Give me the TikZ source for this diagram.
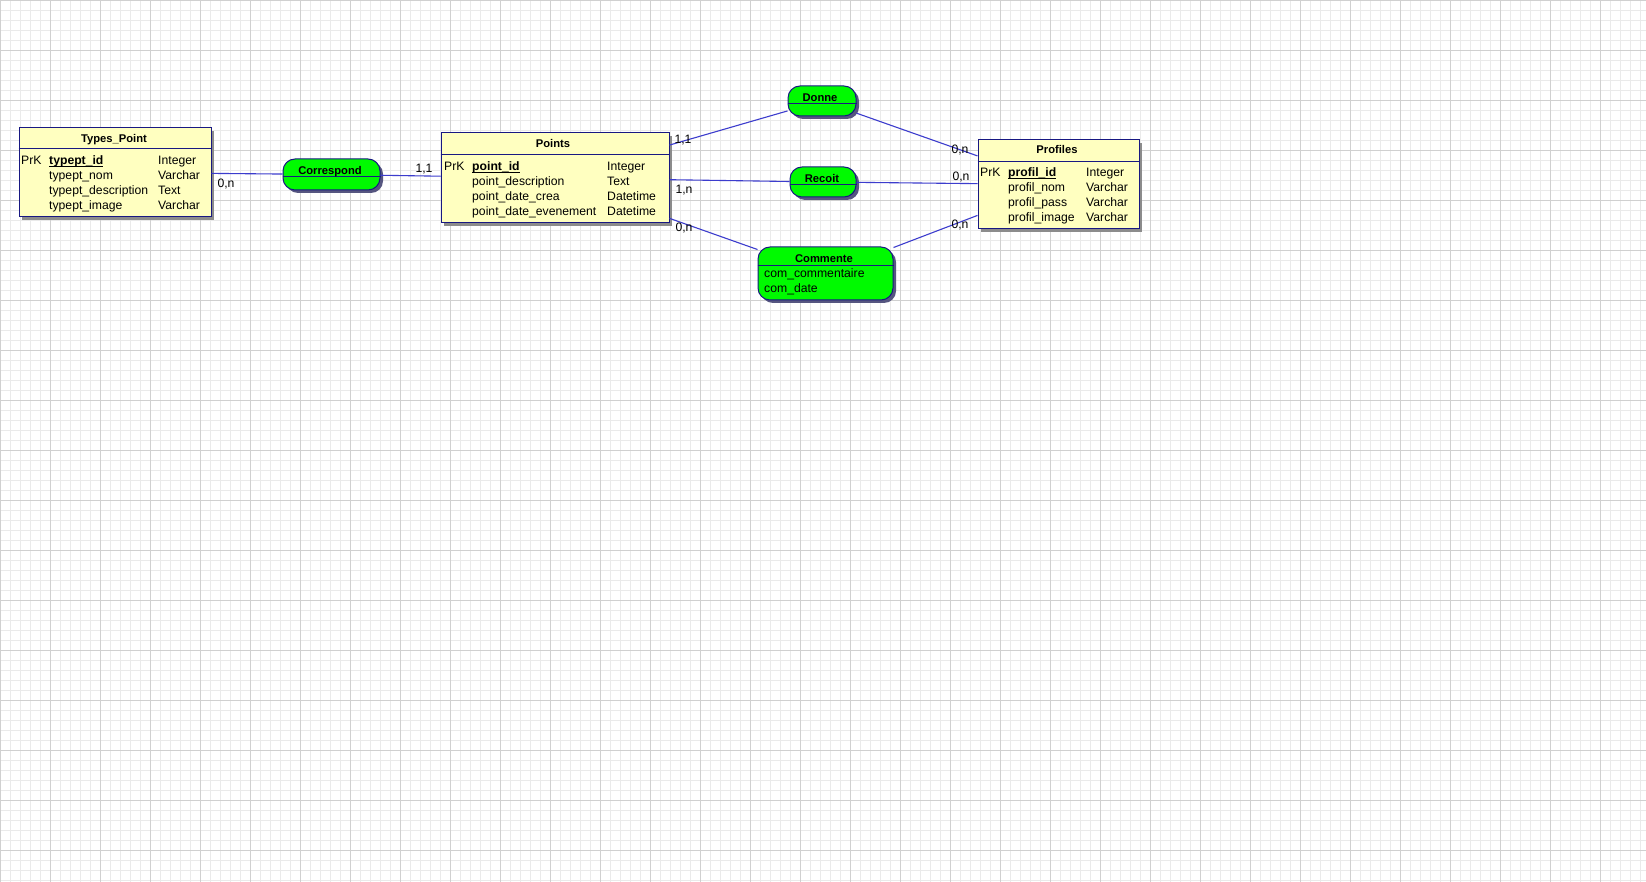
\documentclass[tikz,border=0pt]{standalone}
\usepackage{fontspec}
\setmainfont{Liberation Sans}
\usetikzlibrary{shadows}

\definecolor{tablefill}{RGB}{255,255,192}
\definecolor{assocgreen}{RGB}{0,250,0}
\definecolor{edgenavy}{RGB}{24,24,130}
\definecolor{linkblue}{RGB}{60,60,205}
\definecolor{gridminor}{RGB}{234,234,234}
\definecolor{gridmajor}{RGB}{208,208,208}
\newcommand\attrfont{\fontsize{12.2}{14}\selectfont}
\newcommand\titlefont{\fontsize{11.2}{13}\selectfont\bfseries}
\newcommand\primkey[1]{\underline{\smash{\textbf{#1}}}}

\begin{document}
\begin{tikzpicture}[x=1pt,y=-1pt,
    table/.style={rectangle,draw=edgenavy,line width=1pt,fill=tablefill,inner sep=0,
      drop shadow={shadow xshift=3pt,shadow yshift=-3pt,fill=black!45,opacity=1}},
    assoc/.style={rectangle,rounded corners=12pt,draw=edgenavy,line width=1pt,fill=assocgreen,inner sep=0,
      drop shadow={shadow xshift=3pt,shadow yshift=-3pt,fill=edgenavy!40!gray,opacity=1}},
    title/.style={inner sep=0,text height=8.5pt,text depth=2.5pt,yshift=-2pt,font=\titlefont},
    attr/.style={anchor=west,inner sep=0,text height=9pt,text depth=3pt,yshift=-2pt,font=\attrfont},
    card/.style={inner sep=0,text height=9pt,text depth=3pt,yshift=-1pt,font=\attrfont}]
      \fill[white] (0,0) rectangle (1646,882);
      \useasboundingbox (0,0) rectangle (1646,882);
      \foreach \gx in {0,10,...,1640} \draw[gridminor,line width=0.8pt] (\gx,0) -- (\gx,882);
      \foreach \gy in {0,10,...,880} \draw[gridminor,line width=0.8pt] (0,\gy) -- (1646,\gy);
      \foreach \gx in {0,50,...,1600} \draw[gridmajor,line width=0.8pt] (\gx,0) -- (\gx,882);
      \foreach \gy in {0,50,...,850} \draw[gridmajor,line width=0.8pt] (0,\gy) -- (1646,\gy);

      \node[table,minimum width=192pt,minimum height=89pt] (tp) at (115,172.5) {};
      \node[table,minimum width=228pt,minimum height=90pt] (pts) at (555,178) {};
      \node[table,minimum width=161pt,minimum height=89pt] (prof) at (1058.5,184.5) {};
      \node[assoc,minimum width=97pt,minimum height=31pt] (corr) at (331.5,174.5) {};
      \node[assoc,minimum width=68pt,minimum height=30pt] (donne) at (822,101) {};
      \node[assoc,minimum width=66pt,minimum height=30pt] (recoit) at (823,182) {};
      \node[assoc,minimum width=135pt,minimum height=53pt] (comm) at (825.5,273.5) {};

      \draw[edgenavy,line width=1pt] (tp.west |- 0,149) -- (tp.east |- 0,149);
      \draw[edgenavy,line width=1pt] (pts.west |- 0,155) -- (pts.east |- 0,155);
      \draw[edgenavy,line width=1pt] (prof.west |- 0,162) -- (prof.east |- 0,162);
      \draw[edgenavy,line width=1pt] (corr.west |- 0,177) -- (corr.east |- 0,177);
      \draw[edgenavy,line width=1pt] (donne.west |- 0,104) -- (donne.east |- 0,104);
      \draw[edgenavy,line width=1pt] (recoit.west |- 0,185) -- (recoit.east |- 0,185);
      \draw[edgenavy,line width=1pt] (comm.west |- 0,266) -- (comm.east |- 0,266);

      \node[title] (tptitle) at (114,138) {Types\_Point};
      \node[attr] (tp1k) at (21,160) {PrK};
      \node[attr] (tp1n) at (49,160) {\primkey{typept\_id}};
      \node[attr] (tp1t) at (158,160) {Integer};
      \node[attr] (tp2n) at (49,175) {typept\_nom};
      \node[attr] (tp2t) at (158,175) {Varchar};
      \node[attr] (tp3n) at (49,190) {typept\_description};
      \node[attr] (tp3t) at (158,190) {Text};
      \node[attr] (tp4n) at (49,205) {typept\_image};
      \node[attr] (tp4t) at (158,205) {Varchar};

      \node[title] (ptstitle) at (553,143) {Points};
      \node[attr] (pts1k) at (444,166) {PrK};
      \node[attr] (pts1n) at (472,166) {\primkey{point\_id}};
      \node[attr] (pts1t) at (607,166) {Integer};
      \node[attr] (pts2n) at (472,181) {point\_description};
      \node[attr] (pts2t) at (607,181) {Text};
      \node[attr] (pts3n) at (472,196) {point\_date\_crea};
      \node[attr] (pts3t) at (607,196) {Datetime};
      \node[attr] (pts4n) at (472,211) {point\_date\_evenement};
      \node[attr] (pts4t) at (607,211) {Datetime};

      \node[title] (proftitle) at (1057,149) {Profiles};
      \node[attr] (prof1k) at (980,172) {PrK};
      \node[attr] (prof1n) at (1008,172) {\primkey{profil\_id}};
      \node[attr] (prof1t) at (1086,172) {Integer};
      \node[attr] (prof2n) at (1008,187) {profil\_nom};
      \node[attr] (prof2t) at (1086,187) {Varchar};
      \node[attr] (prof3n) at (1008,202) {profil\_pass};
      \node[attr] (prof3t) at (1086,202) {Varchar};
      \node[attr] (prof4n) at (1008,217) {profil\_image};
      \node[attr] (prof4t) at (1086,217) {Varchar};

      \node[title] (corrtitle) at (330,170) {Correspond};
      \node[title] (donnetitle) at (820,97) {Donne};
      \node[title] (recoittitle) at (822,178) {Recoit};
      \node[title] (commtitle) at (824,258) {Commente};
      \node[attr] (comm1) at (764,273) {com\_commentaire};
      \node[attr] (comm2) at (764,288) {com\_date};

      \begin{scope}[every edge/.style={draw=linkblue,line width=1.1pt}]
        \path (tp) edge (corr);
        \path (corr) edge (pts);
        \path (pts) edge (donne);
        \path (donne) edge (prof);
        \path (pts) edge (recoit);
        \path (recoit) edge (prof);
        \path (pts) edge (comm);
        \path (comm) edge (prof);
      \end{scope}

      \node[card] (c1) at (226,183.5) {0,n};
      \node[card] (c2) at (424,169) {1,1};
      \node[card] (c3) at (683,140) {1,1};
      \node[card] (c4) at (684,190) {1,n};
      \node[card] (c5) at (684,228) {0,n};
      \node[card] (c6) at (960,150) {0,n};
      \node[card] (c7) at (961,177) {0,n};
      \node[card] (c8) at (960,225) {0,n};
\end{tikzpicture}
\end{document}
